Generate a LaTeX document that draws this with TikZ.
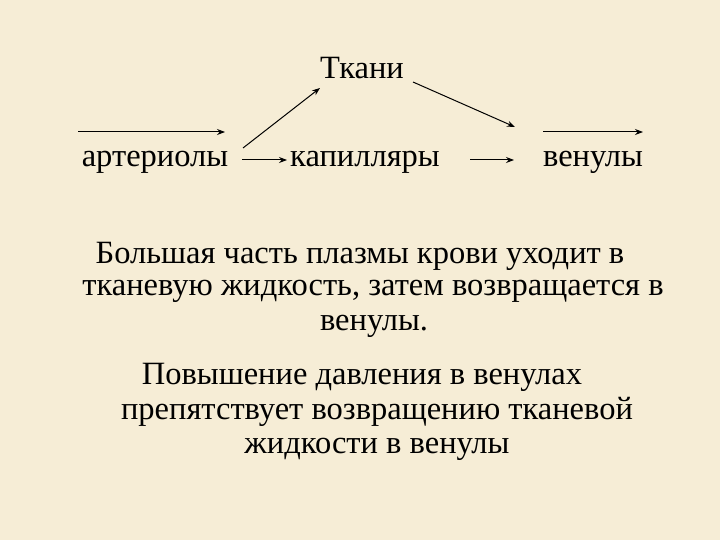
\documentclass[tikz,border=0pt]{standalone}
\usepackage{fontspec}
\setmainfont{Liberation Serif}
\usetikzlibrary{arrows.meta,calc}
\begin{document}
\begin{tikzpicture}[x=1pt,y=-1pt,
  lbl/.style={inner sep=0pt,font=\fontsize{32.5}{38}\selectfont},
  txt/.style={inner sep=0pt,font=\fontsize{32.5}{38}\selectfont},
  arr/.style={-{Stealth[length=8pt,width=6pt]},line width=1pt}]
\fill[fill={rgb,255:red,246;green,237;blue,214}] (0,0) rectangle (720,540);
\useasboundingbox (0,0) rectangle (720,540);
\node[lbl] (tk) at (362,68) {Ткани};
\node[lbl] (ar) at (155,162) {артериолы};
\node[lbl] (ka) at (365,162) {капилляры};
\node[lbl] (ve) at (593,162) {венулы};
\coordinate (a1) at (78,132); \coordinate (a2) at (225,132);
\coordinate (b1) at (543,132); \coordinate (b2) at (643,132);
\coordinate (d1) at (243,148); \coordinate (d2) at (320,88);
\coordinate (e1) at (413,82); \coordinate (e2) at (515,127);
\coordinate (c1) at (242,160); \coordinate (c2) at (287,160);
\coordinate (f1) at (470,160); \coordinate (f2) at (514,160);
\draw[arr] (a1) -- (a2);
\draw[arr] (b1) -- (b2);
\draw[arr] (d1) -- (d2);
\draw[arr] (e1) -- (e2);
\draw[arr] (c1) -- (c2);
\draw[arr] (f1) -- (f2);
\node[txt] (p1) at (360,256) {Большая часть плазмы крови уходит в};
\node[txt] (p2) at (373,291) {тканевую жидкость, затем возвращается в};
\node[txt] (p3) at (374,326) {венулы.};
\node[txt] (p4) at (362,377) {Повышение давления в венулах};
\node[txt] (p5) at (377,412) {препятствует возвращению тканевой};
\node[txt] (p6) at (377,449) {жидкости в венулы};
\end{tikzpicture}
\end{document}
